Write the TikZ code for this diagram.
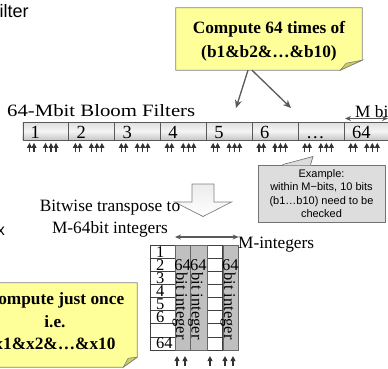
\documentclass[tikz,border=0pt]{standalone}
\usepackage{fontspec}
\setmainfont{Liberation Serif}
\setsansfont{Liberation Sans}
\usetikzlibrary{arrows.meta,positioning,calc}

\definecolor{noteyellow}{HTML}{FFFF99}
\definecolor{notefold}{HTML}{CCCC66}
\definecolor{linegray}{HTML}{595959}
\definecolor{colgray}{HTML}{C0C0C0}
\definecolor{exgray}{HTML}{DDDDDD}

\begin{document}
\begin{tikzpicture}[x=1pt, y=-1pt,
    lbl/.style={font=\fontsize{17.3}{22}\selectfont, inner sep=0pt},
    sanslbl/.style={font=\sffamily\fontsize{18}{20}\selectfont, inner sep=0pt},
    notebox/.style={inner sep=0pt, draw=none},
    notebody/.style={draw=gray, fill=noteyellow, line width=0.8pt},
    notefoldst/.style={draw=gray, fill=notefold, line width=0.6pt},
    notetext/.style={font=\fontsize{17.3}{23.5}\selectfont\bfseries, align=center, inner sep=0pt},
    exbox/.style={draw=black!55, fill=exgray, line width=0.7pt, align=center, inner sep=0pt,
        font=\sffamily\fontsize{11}{13.3}\selectfont},
    cell/.style={draw=black!65, top color=gray!25, bottom color=gray!45, middle color=white!92!gray,
        minimum width=45.9pt, minimum height=18pt, inner sep=0pt, anchor=north west},
    cellnum/.style={font=\fontsize{18.5}{20}\selectfont, inner sep=0pt},
    intcol/.style={draw=black!60, fill=colgray, minimum height=105pt, inner sep=0pt, anchor=north west},
    rowlbl/.style={font=\fontsize{16.5}{18}\selectfont, inner sep=0pt},
    colword/.style={font=\fontsize{16.5}{18}\selectfont, inner sep=0pt},
    gridline/.style={draw=black!75, line width=0.6pt},
    ptr/.style={-{Stealth[length=8pt, width=7pt]}, line width=1.3pt, draw=linegray},
    dptr/.style={{Stealth[length=6pt, width=5pt]}-{Stealth[length=6pt, width=5pt]}, line width=1.1pt, draw=linegray},
    bitarrow/.style={-{Triangle[length=5pt, width=5pt]}, line width=1.1pt, draw=black!80},
    bigarrow/.style={draw=gray, line width=0.7pt, top color=gray!15, bottom color=white},
]
\useasboundingbox (0,0) rectangle (388,368);
\clip (0,0) rectangle (388,368);

% clipped slide text
\node[sanslbl, anchor=base west] (filt) at (-0.5,17.5) {ilter};
\node[sanslbl, font=\sffamily\fontsize{16}{18}\selectfont, anchor=base] (xcut) at (1,235) {x};

% top note
\node[notebox, minimum width=186pt, minimum height=62pt] (cmpbox) at (269,39) {};
\filldraw[notebody] (cmpbox.north west) -- (cmpbox.north east) -- ([yshift=10pt]cmpbox.south east)
    -- ([xshift=-22pt]cmpbox.south east) -- (cmpbox.south west) -- cycle;
\filldraw[notefoldst] ([xshift=-22pt]cmpbox.south east) -- ([xshift=-16pt,yshift=7pt]cmpbox.south east)
    -- ([yshift=10pt]cmpbox.south east) -- cycle;
\node[notetext] (cmp) at ([yshift=-2pt]cmpbox.center) {Compute 64 times of\\(b1\&b2\&…\&b10)};

% Bloom filter row
\node[lbl, font=\fontsize{17.3}{22}\selectfont\addfontfeatures{FakeStretch=1.2}, anchor=base west] (bloom)
    at (7,116) {64-Mbit Bloom Filters};
\foreach \lab [count=\i from 0] in {1,2,3,4,5,6,\dots,64} {
  \node[cell] (c\i) at (22.5+45.9*\i,122) {};
  \node[cellnum, anchor=base west] (n\i) at ([xshift=8pt,yshift=1.7pt]c\i.south west) {\lab};
  \foreach \o in {7,11.5,23,28.5,33.5}
    \draw[bitarrow] ([xshift=\o pt,yshift=-12pt]c\i.south west) -- ([xshift=\o pt,yshift=-2.5pt]c\i.south west);
}
\node[lbl, anchor=base west] (mbit) at (355,117) {M bit};
\coordinate (mbl) at (345,118.5);
\coordinate (mbr) at (388,118.5);
\draw[dptr] (mbl) -- (mbr);

% arrows from the note
\coordinate (tgtL) at (236,108);
\coordinate (tgtR) at (291,108);
\draw[ptr] ([xshift=-21pt]cmpbox.south) -- (tgtL);
\draw[ptr] ([xshift=-17pt]cmpbox.south) -- (tgtR);

% example note
\node[exbox, minimum width=127pt, minimum height=57pt] (ex) at (321.5,193.5)
    {Example:\\within M−bits, 10 bits\\(b1…b10) need to be\\checked};
\coordinate (extip) at (313,156.5);
\fill[exgray] ([xshift=-39pt,yshift=-0.8pt]ex.north) -- (extip) -- ([xshift=-11pt,yshift=-0.8pt]ex.north) -- cycle;
\draw[draw=black!55, line width=0.7pt] ([xshift=-39pt]ex.north) -- (extip) -- ([xshift=-11pt]ex.north);

% transpose arrow
\path[bigarrow] (192,184) -- (214,184) -- (214,202) -- (231.5,202) -- (203,216.5)
    -- (174.5,202) -- (192,202) -- cycle;
\node[lbl, align=center] (bt) at (110,219) {Bitwise transpose to\\M-64bit integers};

% transposed grid
\node[draw=black!75, line width=0.6pt, minimum width=88pt, minimum height=105pt, inner sep=0pt,
    anchor=north west] (grid) at (150,245) {};
\foreach \r in {1,...,7}
  \draw[gridline] (150,245+13.125*\r) -- (238,245+13.125*\r);
\draw[gridline] (175,245) -- (175,350);
\draw[gridline] (206.5,245) -- (206.5,350);
\draw[gridline] (222.5,245) -- (222.5,350);
\node[intcol, minimum width=15pt] (g1) at (175,245) {};
\node[intcol, minimum width=16.5pt] (g2) at (190,245) {};
\node[intcol, minimum width=15.5pt] (g3) at (222.5,245) {};
\foreach \lab/\r in {1/1,2/2,3/3,4/4,5/5,6/6,64/8}
  \node[rowlbl, anchor=west] (rl\r) at (156,245+13.125*\r-6.56) {\lab};
\foreach \g/\b in {g1/176,g2/191.5,g3/224} {
  \node[colword, anchor=base] (t\g) at ([yshift=-25pt]\g.north) {64};
  \node[colword, rotate=-90, anchor=base west] (w\g) at (\b,272) {bit integer};
}
\draw[dptr] ([yshift=8pt]g1.north west) -- ([yshift=8pt]grid.north east);
\node[lbl, anchor=base west] (mint) at (238,248) {M-integers};
\foreach \o in {27,35,60,75,83}
  \draw[bitarrow] ([xshift=\o pt,yshift=-15pt]grid.south west) -- ([xshift=\o pt,yshift=-5.5pt]grid.south west);

% bottom note
\node[notebox, minimum width=164pt, minimum height=84pt] (oncebox) at (55,325) {};
\filldraw[notebody] (oncebox.north west) -- (oncebox.north east) -- ([yshift=10pt]oncebox.south east)
    -- ([xshift=-14pt]oncebox.south east) -- (oncebox.south west) -- cycle;
\filldraw[notefoldst] ([xshift=-14pt]oncebox.south east) -- ([xshift=-9pt,yshift=9pt]oncebox.south east)
    -- ([yshift=10pt]oncebox.south east) -- cycle;
\node[notetext, font=\fontsize{17.3}{22.5}\selectfont\bfseries] (once) at ([yshift=3.5pt]oncebox.center)
    {Compute just once\\i.e.\\x1\&x2\&…\&x10};

\end{tikzpicture}
\end{document}
